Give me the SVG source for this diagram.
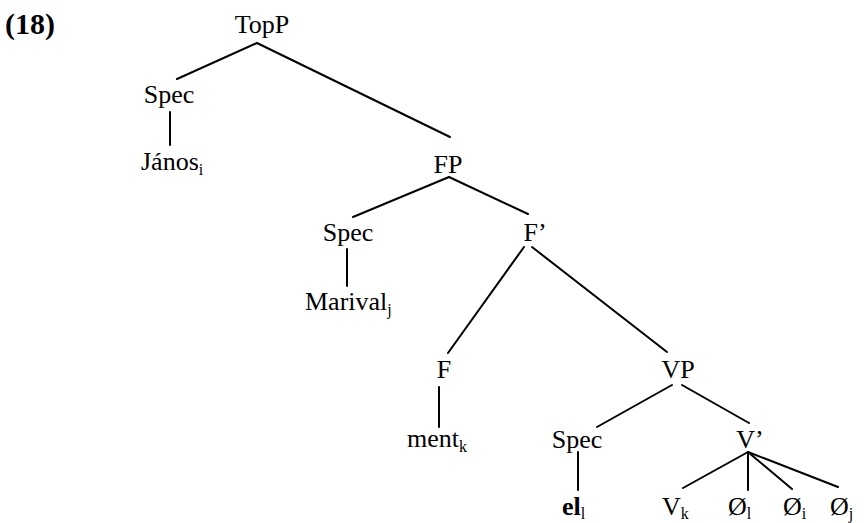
<svg xmlns="http://www.w3.org/2000/svg" width="864" height="523" viewBox="0 0 864 523">
<style>
text{font-family:"Liberation Serif","Times New Roman",serif;font-size:26px;fill:#000}
.m{text-anchor:middle}
.b{font-weight:bold}
.s{font-size:16px}
.n{font-size:30px}
#edges line{stroke:#000;stroke-width:2;stroke-linecap:round}
</style>
<rect width="864" height="523" fill="#fff"/>
<text id="label" x="5" y="34" class="b n">(18)</text>
<g id="edges">
<line x1="257" y1="43" x2="177" y2="79"/>
<line x1="257" y1="43" x2="450" y2="137"/>
<line x1="170" y1="112" x2="170" y2="145"/>
<line x1="449" y1="177" x2="353" y2="217"/>
<line x1="449" y1="177" x2="528" y2="214"/>
<line x1="347" y1="249" x2="347" y2="286"/>
<line x1="524" y1="247" x2="448" y2="353"/>
<line x1="532" y1="247" x2="667" y2="352"/>
<line x1="439" y1="387" x2="439" y2="427"/>
<line x1="672" y1="385" x2="597" y2="427"/>
<line x1="682" y1="385" x2="749" y2="423"/>
<line x1="578" y1="452" x2="578" y2="490"/>
<line x1="748" y1="452" x2="683" y2="488"/>
<line x1="748" y1="452" x2="748" y2="490"/>
<line x1="748" y1="452" x2="792" y2="489"/>
<line x1="748" y1="452" x2="838" y2="487"/>
</g>
<g id="TopP"><text class="m" x="262" y="33">TopP</text></g>
<g id="Spec1"><text class="m" x="169" y="103">Spec</text></g>
<g id="Janos"><text x="141" y="170">János<tspan class="s" dy="5">i</tspan></text></g>
<g id="FP"><text class="m" x="448" y="173">FP</text></g>
<g id="Spec2"><text class="m" x="348" y="241">Spec</text></g>
<g id="Marival"><text x="305" y="310">Marival<tspan class="s" dy="5">j</tspan></text></g>
<g id="Fbar"><text class="m" x="535" y="241">F’</text></g>
<g id="F"><text class="m" x="444" y="378">F</text></g>
<g id="ment"><text x="407" y="447">ment<tspan class="s" dy="5">k</tspan></text></g>
<g id="VP"><text class="m" x="678" y="378">VP</text></g>
<g id="Spec3"><text class="m" x="577" y="448">Spec</text></g>
<g id="el"><text x="562" y="515" class="b">el<tspan class="s" dy="4" font-weight="normal">l</tspan></text></g>
<g id="Vbar"><text class="m" x="750" y="448">V’</text></g>
<g id="Vk"><text x="662" y="515">V<tspan class="s" dy="4">k</tspan></text></g>
<g id="O1"><text x="728" y="515">Ø<tspan class="s" dy="4">l</tspan></text></g>
<g id="O2"><text x="783" y="515">Ø<tspan class="s" dy="4">i</tspan></text></g>
<g id="O3"><text x="830" y="515">Ø<tspan class="s" dy="4">j</tspan></text></g>
</svg>
